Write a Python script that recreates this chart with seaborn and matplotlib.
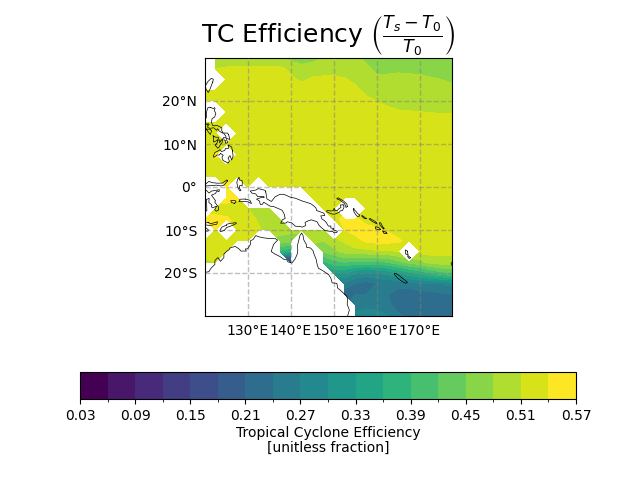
import numpy as np
import pandas as pd
import matplotlib
matplotlib.use('Agg')
import matplotlib.pyplot as plt
from matplotlib.colors import BoundaryNorm
import seaborn as sns

N = np.nan

# grid of the field, 2.5 degrees, values in thousandths
lons = [120, 122.5, 125, 127.5, 130, 132.5, 135, 137.5, 140, 142.5, 145, 147.5,
        150, 152.5, 155, 157.5, 160, 162.5, 165, 167.5, 170, 172.5, 175, 177.5]
lats = [30, 27.5, 25, 22.5, 20, 17.5, 15, 12.5, 10, 7.5, 5, 2.5, 0,
        -2.5, -5, -7.5, -10, -12.5, -15, -17.5, -20, -22.5, -25, -27.5, -30]

row_30 = [N, 490, 485, 490, 495, 495, 490, 485, 470, 465, 470, 480, 490, 490, 485, 475, 480, 470, 460, 460, 460, 460, 460, 460]
row_27 = [N, 510, 515, 515, 515, 515, 515, 515, 505, 490, 495, 500, 500, 500, 490, 485, 475, 475, 475, 474, 474, 470, 465, 460]
row_25 = [N, N, 525, 525, 525, 525, 525, 525, 515, 505, 515, 515, 515, 512, 505, 495, 485, 485, 488, 487, 485, 483, 480, 475]
row_22 = [525, 525, 525, 525, 525, 525, 525, 525, 525, 525, 525, 525, 525, 525, 515, 505, 500, 495, 495, 495, 490, 490, 490, 490]
row_20 = [525, 525, 525, 525, 525, 525, 525, 525, 525, 525, 525, 525, 525, 525, 525, 515, 510, 505, 500, 500, 500, 500, 500, 500]
row_17 = [N, N, 525, 525, 525, 525, 525, 525, 525, 525, 525, 525, 525, 525, 525, 525, 520, 515, 512, 511, 510, 509, 508, 508]
row_15 = [525, 525, 525, 525, 525, 525, 525, 525, 525, 525, 525, 525, 525, 525, 525, 525, 525, 525, 520, 520, 520, 520, 520, 520]
row_12 = [525, 525, N, 525, 525, 525, 525, 525, 525, 525, 525, 525, 525, 525, 525, 525, 525, 525, 525, 525, 525, 525, 525, 525]
row_10 = [525, 525, 525, 525, 525, 525, 525, 525, 525, 525, 525, 525, 525, 525, 525, 525, 525, 525, 525, 525, 525, 525, 525, 525]
row_07 = [525, 545, N, 525, 525, 525, 525, 525, 525, 525, 525, 525, 525, 525, 525, 525, 525, 525, 525, 525, 525, 525, 525, 525]
row_05 = [525, 525, 525, 525, 525, 525, 525, 525, 525, 525, 525, 525, 525, 525, 525, 525, 525, 525, 525, 525, 525, 525, 525, 525]
row_02 = [525, 525, 525, 525, 525, 525, 525, 525, 525, 525, 525, 525, 525, 525, 525, 525, 525, 525, 525, 525, 525, 525, 525, 525]
row_00 = [N, N, 550, N, 525, N, 525, 525, 525, 525, 525, 525, 525, 525, 525, 525, 525, 525, 525, 525, 525, 525, 525, 525]
row_m02 = [N, N, 555, 545, N, N, N, N, N, N, 525, 525, 525, 525, 525, 525, 525, 525, 525, 525, 525, 525, 525, 525]
row_m05 = [N, 525, 525, 530, 510, 505, 500, N, N, N, N, 525, 525, N, N, 525, 525, 525, 525, 525, 525, 525, 525, 525]
row_m07 = [550, 550, 545, 530, 525, 505, 495, 490, N, N, N, N, 535, 545, 545, 530, 525, 525, 525, 525, 525, 525, 525, 525]
row_m10 = [N, 540, N, 535, 525, 515, 495, 490, 490, 490, 490, 500, N, 540, 550, 550, 545, 538, 525, 525, 525, 525, 525, 525]
row_m12 = [525, 525, 525, 535, 525, N, N, 470, 460, N, 490, 480, 500, 515, 530, 545, 550, 550, 545, 530, 525, 525, 525, 525]
row_m15 = [520, 520, 525, N, N, N, N, 380, 360, N, N, 450, 470, 490, 500, 500, 505, 505, 510, N, 520, 520, 520, 515]
row_m17 = [505, 510, N, N, N, N, N, N, 100, N, N, 380, 410, 420, 410, 410, 410, 420, 440, 460, 470, 490, 495, 500]
row_m20 = [N, N, N, N, N, N, N, N, N, N, N, N, 330, 330, 300, 295, 300, 310, 330, 350, 370, 390, 410, 420]
row_m22 = [N, N, N, N, N, N, N, N, N, N, N, N, N, 260, 240, 225, 240, 245, 250, 255, 265, 265, 270, 280]
row_m25 = [N, N, N, N, N, N, N, N, N, N, N, N, N, 220, 240, 240, 245, 240, 228, 222, 225, 230, 235, 238]
row_m27 = [N, N, N, N, N, N, N, N, N, N, N, N, N, N, 255, 262, 262, 248, 228, 218, 215, 220, 215, 220]
row_m30 = [N, N, N, N, N, N, N, N, N, N, N, N, N, N, 280, 285, 280, 270, 245, 232, 225, 222, 215, 210]

efficiency = np.array([row_30, row_27, row_25, row_22, row_20, row_17, row_15, row_12, row_10,
                       row_07, row_05, row_02, row_00, row_m02, row_m05, row_m07, row_m10,
                       row_m12, row_m15, row_m17, row_m20, row_m22, row_m25, row_m27, row_m30]) / 1000

levels = [0.03, 0.06, 0.09, 0.12, 0.15, 0.18, 0.21, 0.24, 0.27, 0.30,
          0.33, 0.36, 0.39, 0.42, 0.45, 0.48, 0.51, 0.54, 0.57]
cbar_ticks = [0.03, 0.09, 0.15, 0.21, 0.27, 0.33, 0.39, 0.45, 0.51, 0.57]
cbar_minor = [0.06, 0.12, 0.18, 0.24, 0.30, 0.36, 0.42, 0.48, 0.54]

lon_ticks = [130, 140, 150, 160, 170]
lon_labels = ['130°E', '140°E', '150°E', '160°E', '170°E']
lat_ticks = [-20, -10, 0, 10, 20]
lat_labels = ['20°S', '10°S', '0°', '10°N', '20°N']

# coastlines, (lon, lat)
coasts = {
    'australia': [(153.3, -31), (153.1, -30.4), (153.6, -28.6), (153.1, -27.3), (153.2, -25.9), (152.9, -25.3), (151.6, -24.1),
                  (150.9, -23.5), (150.7, -22.4), (149.6, -22.3), (149.3, -21.2), (148.8, -20.4), (147.5, -19.5),
                  (146.4, -18.9), (146.1, -18.0), (145.9, -16.9), (145.3, -15.4), (145.2, -14.9), (144.6, -14.2),
                  (143.6, -14.0), (143.6, -13.4), (143.0, -12.3), (142.8, -11.2), (142.5, -10.7), (142.1, -11.3),
                  (141.7, -12.9), (141.5, -13.7), (141.6, -14.6), (141.5, -15.5), (141.0, -16.7), (140.2, -17.7),
                  (139.3, -17.4), (139.0, -16.9), (138.3, -16.8), (137.5, -16.2), (136.3, -15.6), (135.4, -15.0),
                  (135.5, -14.7), (136.0, -13.3), (136.9, -12.35), (136.3, -11.95), (135.5, -12.0), (134.7, -11.95),
                  (133.5, -11.8), (132.6, -11.6), (131.8, -11.3), (131.2, -12.2), (130.6, -12.5), (130.6, -13.3),
                  (129.9, -14.4), (129.4, -14.4), (129.6, -14.9), (129.0, -14.9), (128.4, -14.9), (127.8, -14.3),
                  (127.0, -13.8), (125.8, -14.2), (125.7, -14.5), (125.0, -15.0), (124.4, -15.6), (124.4, -16.4),
                  (123.6, -17.3), (123.0, -16.4), (122.3, -17.1), (122.3, -18.0), (121.4, -18.9), (120.9, -19.7),
                  (119.3, -19.95), (118.0, -20.4)],
    'new_guinea': [(134.14, -1.15), (134.42, -2.77), (135.46, -3.37), (136.29, -2.31), (137.44, -1.70), (138.33, -1.70),
                   (139.18, -2.05), (139.93, -2.41), (141.0, -2.60), (142.74, -3.29), (144.58, -3.86), (145.27, -4.37),
                   (145.83, -4.88), (145.98, -5.47), (147.65, -6.08), (147.89, -6.61), (146.97, -6.72), (147.19, -7.39),
                   (148.08, -8.04), (148.73, -9.10), (149.31, -9.07), (149.27, -9.51), (150.04, -9.68), (149.74, -9.87),
                   (150.80, -10.29), (150.69, -10.58), (150.03, -10.65), (149.78, -10.39), (148.92, -10.28), (147.91, -10.13),
                   (147.14, -9.49), (146.57, -8.94), (146.05, -8.07), (144.74, -7.63), (143.90, -7.92), (143.29, -8.25),
                   (143.41, -8.98), (142.63, -9.33), (142.07, -9.16), (141.03, -9.12), (140.14, -8.30), (139.13, -8.10),
                   (138.88, -8.38), (137.61, -8.41), (138.04, -7.60), (138.67, -7.32), (138.41, -6.23), (137.93, -5.39),
                   (135.99, -4.55), (135.16, -4.46), (133.66, -3.54), (133.37, -4.02), (132.98, -4.11), (132.76, -3.75),
                   (132.75, -3.31), (131.99, -2.82), (133.07, -2.46), (133.78, -2.48), (133.70, -2.21), (132.23, -2.21),
                   (131.84, -1.62), (130.94, -1.43), (130.52, -0.94), (131.87, -0.70), (132.38, -0.37), (133.99, -0.78),
                   (134.14, -1.15)],
    'mindanao': [(126.38, 8.41), (126.48, 7.75), (126.54, 7.19), (126.20, 6.27), (125.83, 7.29), (125.36, 6.79), (125.68, 6.05),
                 (125.40, 5.58), (124.22, 6.16), (123.94, 6.89), (124.24, 7.36), (123.61, 7.83), (123.30, 7.42), (122.83, 7.46),
                 (122.09, 6.90), (121.92, 7.19), (122.31, 8.03), (122.94, 8.32), (123.49, 8.69), (123.84, 8.24), (124.60, 8.51),
                 (124.76, 8.96), (125.47, 8.99), (125.41, 9.76), (126.22, 9.29), (126.31, 8.78), (126.38, 8.41)],
    'luzon': [(121.32, 18.50), (121.94, 18.22), (122.25, 18.48), (122.34, 18.22), (122.17, 17.81), (122.52, 17.09), (122.25, 16.26),
              (121.66, 15.93), (121.51, 15.12), (121.73, 14.33), (122.26, 14.22), (122.70, 14.34), (123.95, 13.78), (123.86, 13.24),
              (124.18, 12.60), (124.08, 12.54), (123.30, 13.03), (122.93, 13.55), (122.67, 13.19), (122.03, 13.78), (121.13, 13.64),
              (120.63, 13.86), (120.68, 14.27), (120.99, 14.53), (120.69, 14.76), (120.56, 14.40), (120.07, 14.97), (119.92, 15.41),
              (119.88, 16.36), (120.29, 16.03), (120.39, 17.60), (120.72, 18.51), (121.32, 18.50)],
    'samar': [(125.50, 12.16), (125.78, 11.05), (125.01, 11.31), (125.03, 10.98), (125.28, 10.36), (124.80, 10.13), (124.76, 10.84),
              (124.46, 10.89), (124.30, 11.50), (124.89, 11.42), (124.88, 11.79), (124.27, 12.56), (125.23, 12.54), (125.50, 12.16)],
    'negros': [(122.59, 9.98), (122.84, 10.26), (122.95, 10.88), (123.50, 10.94), (123.34, 10.27), (124.08, 11.23), (123.98, 10.28),
               (123.62, 9.95), (123.31, 9.32), (122.99, 9.02), (122.38, 9.71), (122.59, 9.98)],
    'panay': [(121.88, 11.89), (122.48, 11.58), (123.12, 11.58), (123.10, 11.17), (122.64, 10.74), (122.00, 10.44), (121.97, 10.91),
              (122.04, 11.42), (121.88, 11.89)],
    'mindoro': [(120.32, 13.47), (121.18, 13.43), (121.53, 13.07), (121.26, 12.21), (120.83, 12.70), (120.32, 13.47)],
    'taiwan': [(121.78, 24.39), (121.18, 22.79), (120.75, 21.97), (120.22, 22.81), (120.11, 23.56), (120.69, 24.54), (121.50, 25.30),
               (121.95, 24.99), (121.78, 24.39)],
    'sulawesi': [(125.24, 1.42), (124.44, 0.43), (123.69, 0.24), (122.72, 0.43), (120.18, 0.24), (120.04, -0.52), (120.94, -1.41),
                 (121.48, -0.96), (123.34, -0.62), (123.26, -1.08), (122.82, -0.93), (122.39, -1.52), (121.51, -1.90), (122.45, -3.19),
                 (122.27, -3.53), (123.17, -4.68), (123.16, -5.34), (122.63, -5.63), (122.24, -5.28), (122.72, -4.46), (121.74, -4.85),
                 (121.49, -4.57), (121.62, -4.19), (120.90, -3.60), (120.97, -2.63), (120.31, -2.93), (120.39, -4.10), (120.43, -5.53),
                 (119.80, -5.67), (119.37, -5.38), (119.65, -4.46), (119.50, -3.49), (119.08, -3.49), (118.77, -2.80), (119.18, -2.15),
                 (119.32, -1.35), (119.83, 0.15), (120.04, 0.57), (120.89, 1.31), (121.67, 1.01), (122.93, 0.88), (124.08, 0.92),
                 (125.07, 1.64), (125.24, 1.42)],
    'halmahera': [(127.93, 2.17), (128.00, 1.63), (128.59, 1.54), (128.69, 1.13), (128.64, 0.26), (128.12, 0.36), (127.97, -0.25),
                  (128.38, -0.78), (128.10, -0.90), (127.70, -0.27), (127.40, 1.01), (127.60, 1.81), (127.93, 2.17)],
    'buru': [(126.87, -3.79), (126.18, -3.61), (125.99, -3.18), (127.00, -3.13), (127.25, -3.46), (126.87, -3.79)],
    'seram': [(129.37, -2.80), (130.47, -3.09), (130.83, -3.86), (129.99, -3.45), (129.16, -3.36), (128.59, -3.43), (127.90, -3.39),
              (128.14, -2.84), (129.37, -2.80)],
    'flores': [(120.72, -8.24), (121.34, -8.54), (122.90, -8.09), (122.76, -8.65), (121.25, -8.93), (119.92, -8.81), (119.92, -8.44),
               (120.72, -8.24)],
    'sumba': [(119.9, -9.36), (120.43, -9.67), (120.78, -9.97), (120.72, -10.24), (120.30, -10.26), (118.97, -9.56), (119.9, -9.36)],
    'timor': [(124.97, -8.89), (125.09, -8.66), (125.95, -8.43), (126.64, -8.40), (126.96, -8.27), (127.34, -8.40), (126.97, -8.67),
              (125.93, -9.11), (125.09, -9.39), (124.44, -10.14), (123.58, -10.36), (123.46, -10.24), (123.55, -9.90), (123.98, -9.29),
              (124.97, -8.89)],
    'new_britain': [(152.14, -4.15), (152.34, -4.31), (152.32, -4.87), (151.98, -5.48), (151.46, -5.56), (151.30, -5.84), (150.24, -6.32),
                    (149.71, -6.32), (148.89, -6.03), (148.32, -5.75), (148.40, -5.44), (149.30, -5.58), (149.85, -5.51), (149.996, -5.03),
                    (150.14, -5.00), (150.24, -5.53), (150.81, -5.46), (151.09, -5.11), (151.65, -4.76), (151.54, -4.17), (152.14, -4.15)],
    'new_ireland': [(153.14, -4.50), (152.83, -4.77), (152.64, -4.18), (152.41, -3.79), (151.38, -3.04), (150.66, -2.74), (150.94, -2.50),
                    (152.24, -3.24), (152.83, -3.78), (153.02, -3.98), (153.14, -4.50)],
    'bougainville': [(154.65, -5.04), (154.76, -5.34), (155.06, -5.57), (155.55, -6.20), (156.02, -6.54), (155.88, -6.82), (155.60, -6.92),
                     (155.17, -6.54), (154.73, -5.90), (154.51, -5.14), (154.65, -5.04)],
    'makira': [(162.12, -10.48), (162.40, -10.83), (161.70, -10.82), (161.32, -10.20), (161.92, -10.45), (162.12, -10.48)],
    'guadalcanal': [(160.85, -9.87), (160.46, -9.90), (159.85, -9.79), (159.64, -9.64), (159.70, -9.24), (160.36, -9.40), (160.69, -9.61),
                    (160.85, -9.87)],
    'malaita': [(161.68, -9.60), (161.53, -9.78), (160.79, -8.92), (160.58, -8.32), (160.92, -8.32), (161.28, -9.12), (161.68, -9.60)],
    'isabel': [(159.88, -8.34), (159.92, -8.54), (159.13, -8.11), (158.59, -7.75), (158.21, -7.42), (158.37, -7.32), (158.82, -7.56),
               (159.64, -8.02), (159.88, -8.34)],
    'choiseul': [(157.54, -7.35), (157.34, -7.40), (156.90, -7.18), (156.49, -6.77), (156.54, -6.60), (157.14, -7.02), (157.54, -7.35)],
    'malekula': [(167.84, -16.47), (167.52, -16.60), (167.18, -16.16), (167.22, -15.89), (167.84, -16.47)],
    'santo': [(167.11, -14.93), (167.27, -15.74), (167.00, -15.61), (166.79, -15.67), (166.65, -15.39), (166.63, -14.63), (167.11, -14.93)],
    'new_caledonia': [(165.78, -21.08), (166.60, -21.70), (167.12, -22.16), (166.74, -22.40), (166.19, -22.13), (165.47, -21.68),
                      (164.83, -21.15), (164.17, -20.44), (164.03, -20.11), (164.46, -20.12), (165.02, -20.46), (165.46, -20.80),
                      (165.78, -21.08)],
    'viti_levu': [(178.37, -17.34), (178.72, -17.63), (178.55, -18.15), (177.93, -18.29), (177.38, -18.16), (177.29, -17.72),
                  (177.67, -17.38), (178.13, -17.50), (178.37, -17.34)],
}

coast_df = pd.DataFrame(
    [(name, lon, lat) for name, pts in coasts.items() for lon, lat in pts],
    columns=['island', 'lon', 'lat']
)

fig = plt.figure(figsize=(6.4, 4.8), dpi=100)
ax = fig.add_axes([205 / 640, (480 - 316) / 480, 247 / 640, 258 / 480])

cmap = sns.color_palette('viridis', as_cmap=True)
norm = BoundaryNorm(levels, cmap.N)
cs = ax.contourf(lons, lats, efficiency, levels=levels, cmap=cmap, norm=norm)

sns.lineplot(data=coast_df, x='lon', y='lat', units='island', estimator=None, sort=False,
             color='black', linewidth=0.5, legend=False, ax=ax, zorder=3)

ax.set_xlim(120, 177.5)
ax.set_ylim(-30, 30)
ax.set_xlabel('')
ax.set_ylabel('')
ax.set_xticks(lon_ticks, lon_labels)
ax.set_yticks(lat_ticks, lat_labels)
ax.tick_params(length=0, pad=5.5)
ax.grid(True, color='gray', alpha=0.5, linestyle='--', linewidth=1, zorder=4)
ax.set_axisbelow(False)
ax.set_title(r'TC Efficiency $\left(\frac{T_s - T_0}{T_0}\right)$', fontsize=18, pad=5)

cax = fig.add_axes([80 / 640, (480 - 399) / 480, 496 / 640, 27 / 480])
cbar = fig.colorbar(cs, cax=cax, orientation='horizontal', ticks=cbar_ticks, format='%.2f')
cbar.set_ticks(cbar_minor, minor=True)
cbar.set_label('Tropical Cyclone Efficiency\n[unitless fraction]', labelpad=2, linespacing=1.1)

fig.savefig('out.png', dpi=100)
